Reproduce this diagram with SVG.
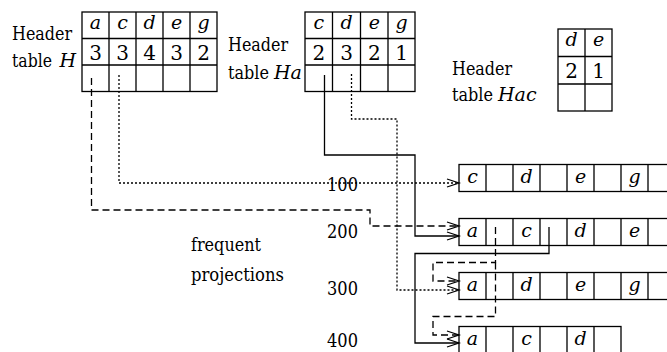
<svg xmlns="http://www.w3.org/2000/svg" width="667" height="352" viewBox="0 0 667 352" font-family="DejaVu Serif, serif">
<defs>
<style>
text{font-family:"DejaVu Serif",serif;font-size:19px;fill:#000}
.i{font-style:italic}
.c{text-anchor:middle}
.n{font-size:20px}
.box{fill:none;stroke:#000;stroke-width:1.3}
.ln{fill:none;stroke:#000;stroke-width:1.3}
.solid{fill:none;stroke:#000;stroke-width:1.3}
.dash{fill:none;stroke:#000;stroke-width:1.3;stroke-dasharray:7 4}
.dot{fill:none;stroke:#000;stroke-width:1.3;stroke-dasharray:2 2}
</style>
<marker id="arr" markerUnits="userSpaceOnUse" markerWidth="16" markerHeight="12" refX="13" refY="6" orient="auto" overflow="visible">
<path d="M1,2 L13,6 L1,10" fill="none" stroke="#000" stroke-width="1.3"/>
</marker>
</defs>
<rect width="667" height="352" fill="#fff"/>

<g id="label-H">
<text x="12" y="40" textLength="60" lengthAdjust="spacingAndGlyphs">Header</text>
<text x="12" y="67"><tspan textLength="40" lengthAdjust="spacingAndGlyphs">table</tspan><tspan class="i" x="59.5">H</tspan></text>
</g>
<g id="table-H">
<rect class="box" x="82" y="12" width="135" height="79.5"/>
<path class="ln" d="M82,38.5H217M82,65H217M109,12V91.5M136,12V91.5M163,12V91.5M190,12V91.5"/>
<text class="i c" x="95.5" y="29">a</text>
<text class="i c" x="122.5" y="29">c</text>
<text class="i c" x="149.5" y="29">d</text>
<text class="i c" x="176.5" y="29">e</text>
<text class="i c" x="203.5" y="29">g</text>
<text class="c n" x="95.5" y="60">3</text>
<text class="c n" x="122.5" y="60">3</text>
<text class="c n" x="149.5" y="60">4</text>
<text class="c n" x="176.5" y="60">3</text>
<text class="c n" x="203.5" y="60">2</text>
</g>

<g id="label-Ha">
<text x="228" y="51" textLength="60" lengthAdjust="spacingAndGlyphs">Header</text>
<text x="228" y="79"><tspan textLength="41" lengthAdjust="spacingAndGlyphs">table</tspan><tspan class="i" x="274">Ha</tspan></text>
</g>
<g id="table-Ha">
<rect class="box" x="305" y="12" width="110" height="79.5"/>
<path class="ln" d="M305,38.5H415M305,65H415M332.5,12V91.5M360.5,12V91.5M388,12V91.5"/>
<text class="i c" x="318.75" y="29">c</text>
<text class="i c" x="346.5" y="29">d</text>
<text class="i c" x="374.25" y="29">e</text>
<text class="i c" x="401.5" y="29">g</text>
<text class="c n" x="318.75" y="60">2</text>
<text class="c n" x="346.5" y="60">3</text>
<text class="c n" x="374.25" y="60">2</text>
<text class="c n" x="401.5" y="60">1</text>
</g>

<g id="label-Hac">
<text x="452" y="75" textLength="60" lengthAdjust="spacingAndGlyphs">Header</text>
<text x="452" y="101"><tspan textLength="41" lengthAdjust="spacingAndGlyphs">table</tspan><tspan class="i" x="498">Hac</tspan></text>
</g>
<g id="table-Hac">
<rect class="box" x="558" y="29" width="54" height="82"/>
<path class="ln" d="M558,56.5H612M558,84H612M585,29V111"/>
<text class="i c" x="571.5" y="46">d</text>
<text class="i c" x="598.5" y="46">e</text>
<text class="c n" x="571.5" y="78">2</text>
<text class="c n" x="598.5" y="78">1</text>
</g>

<g id="label-frequent">
<text x="191" y="251" textLength="70" lengthAdjust="spacingAndGlyphs">frequent</text>
<text x="191" y="281" textLength="93" lengthAdjust="spacingAndGlyphs">projections</text>
</g>

<g id="tid-labels">
<text x="327" y="191" textLength="31" lengthAdjust="spacingAndGlyphs">100</text>
<text x="327" y="238" textLength="31" lengthAdjust="spacingAndGlyphs">200</text>
<text x="327" y="295" textLength="31" lengthAdjust="spacingAndGlyphs">300</text>
<text x="327" y="347" textLength="31" lengthAdjust="spacingAndGlyphs">400</text>
</g>

<g id="proj-100">
<rect class="box" x="459" y="164.5" width="216" height="27"/>
<path class="ln" d="M486,164.5V191.5M513,164.5V191.5M540,164.5V191.5M567,164.5V191.5M594,164.5V191.5M621,164.5V191.5M648,164.5V191.5"/>
<text class="i c" x="472.5" y="183">c</text>
<text class="i c" x="526.5" y="183">d</text>
<text class="i c" x="580.5" y="183">e</text>
<text class="i c" x="634.5" y="183">g</text>
</g>
<g id="proj-200">
<rect class="box" x="459" y="218.5" width="216" height="27"/>
<path class="ln" d="M486,218.5V245.5M513,218.5V245.5M540,218.5V245.5M567,218.5V245.5M594,218.5V245.5M621,218.5V245.5M648,218.5V245.5"/>
<text class="i c" x="472.5" y="237">a</text>
<text class="i c" x="526.5" y="237">c</text>
<text class="i c" x="580.5" y="237">d</text>
<text class="i c" x="634.5" y="237">e</text>
</g>
<g id="proj-300">
<rect class="box" x="459" y="272.5" width="216" height="27"/>
<path class="ln" d="M486,272.5V299.5M513,272.5V299.5M540,272.5V299.5M567,272.5V299.5M594,272.5V299.5M621,272.5V299.5M648,272.5V299.5"/>
<text class="i c" x="472.5" y="291">a</text>
<text class="i c" x="526.5" y="291">d</text>
<text class="i c" x="580.5" y="291">e</text>
<text class="i c" x="634.5" y="291">g</text>
</g>
<g id="proj-400">
<rect class="box" x="459" y="326.5" width="162" height="27"/>
<path class="ln" d="M486,326.5V353.5M513,326.5V353.5M540,326.5V353.5M567,326.5V353.5M594,326.5V353.5"/>
<text class="i c" x="472.5" y="345">a</text>
<text class="i c" x="526.5" y="345">c</text>
<text class="i c" x="580.5" y="345">d</text>
</g>

<g id="connectors">
<path class="dash" d="M91.5,78V210H370V226H459" marker-end="url(#arr)"/>
<path class="dot" d="M119,75V183H459" marker-end="url(#arr)"/>
<path class="solid" d="M324.5,75V155H415V236H459" marker-end="url(#arr)"/>
<path class="dot" d="M351.5,74V119H397V290H459" marker-end="url(#arr)"/>
<path class="solid" d="M549,227V253.5H415V343H459" marker-end="url(#arr)"/>
<path class="dash" d="M495.5,227V262.5H433V281H459" marker-end="url(#arr)"/>
<path class="dash" d="M495.5,262.5V316.5H433V335H459" marker-end="url(#arr)"/>
</g>
</svg>
